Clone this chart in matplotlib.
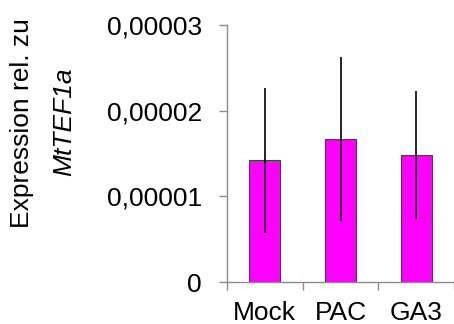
import numpy as np
import matplotlib
matplotlib.use("Agg")
import matplotlib.pyplot as plt

plt.rcParams['font.family'] = ['Liberation Sans', 'DejaVu Sans']

# Daten
categories = ['Mock', 'PAC', 'GA3']
values = [1.42e-5, 1.67e-5, 1.48e-5]
errors = [0.85e-5, 0.96e-5, 0.75e-5]
yticks = [0, 1e-5, 2e-5, 3e-5]
ytick_labels = ['0', '0,00001', '0,00002', '0,00003']

fig = plt.figure(figsize=(4.54, 3.24), dpi=100)
ax = fig.add_axes([0.5, 0.1296, 0.5, 0.7932])

x = np.arange(len(categories)) + 0.5
ax.bar(x, values, width=0.41, color='#FF00FF', edgecolor='#404040', linewidth=0.8, zorder=2)
ax.errorbar(x, values, yerr=errors, fmt='none', ecolor='black', elinewidth=1.2, capsize=0, zorder=3)

ax.set_xlim(0, 3)
ax.set_ylim(0, 3e-5)
ax.set_yticks(yticks)
ax.set_yticklabels(ytick_labels)
ax.set_xticks([0, 1, 2, 3])
ax.set_xticklabels([])
ax.set_xticks(x, minor=True)
ax.set_xticklabels(categories, minor=True)

ax.spines['top'].set_visible(False)
ax.spines['right'].set_visible(False)
for s in ['left', 'bottom']:
    ax.spines[s].set_color('#8c8c8c')
    ax.spines[s].set_linewidth(1.0)

ax.tick_params(axis='y', which='major', length=6, width=1.0, color='#8c8c8c', pad=12, labelsize=19)
ax.tick_params(axis='x', which='major', length=6, width=1.0, color='#8c8c8c', direction='out')
ax.tick_params(axis='x', which='minor', length=0, pad=13.5, labelsize=19)

# Achsenbeschriftung (zweizeilig, zweite Zeile kursiv)
fig.text(0.048, 0.62, 'Expression rel. zu', rotation=90, ha='center', va='center', fontsize=19)
fig.text(0.141, 0.623, 'MtTEF1a', rotation=90, ha='center', va='center', fontsize=19, style='italic')

fig.savefig('out.png', dpi=100)
